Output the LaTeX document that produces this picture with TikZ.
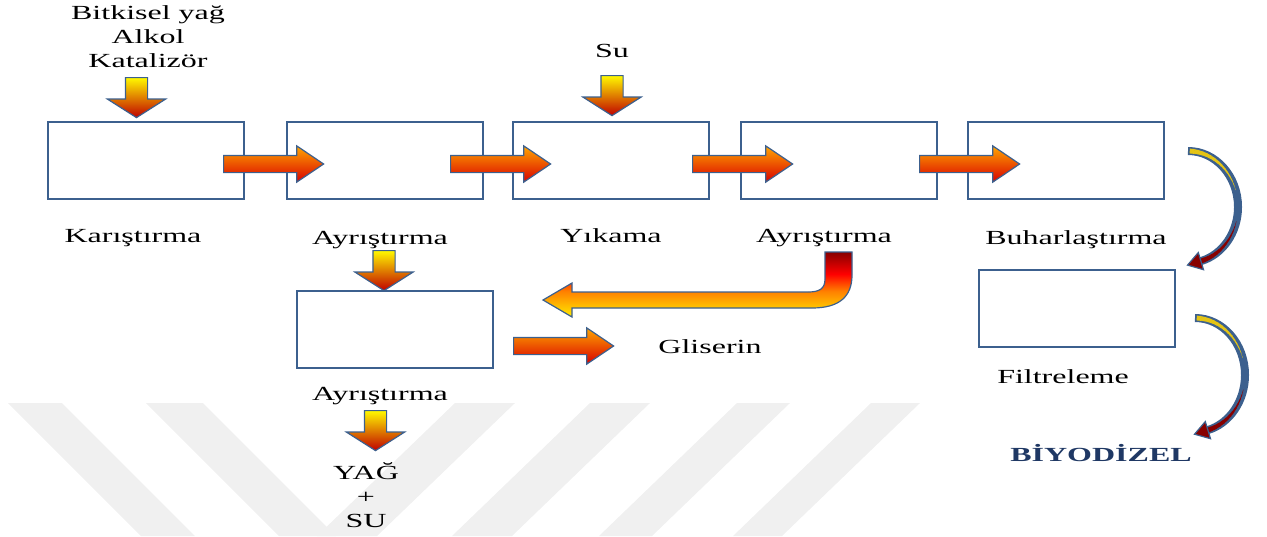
\documentclass[tikz,border=0pt]{standalone}
\usepackage{fontspec}
\setmainfont[FakeStretch=1.6]{Liberation Serif}
\usetikzlibrary{positioning,shapes.arrows,calc}

\definecolor{boxblue}{RGB}{60,96,142}
\definecolor{navy}{RGB}{31,56,100}
\definecolor{darkred}{RGB}{135,0,0}
\definecolor{gold}{RGB}{228,196,20}

% shading of the return arrow: dark red on top, yellow at the bottom
\pgfdeclareverticalshading{uturn}{100bp}{color(0bp)=(yellow!85!orange); color(25bp)=(yellow!85!orange); color(45bp)=(orange); color(58bp)=(red); color(75bp)=(darkred); color(100bp)=(darkred)}

\begin{document}
\begin{tikzpicture}[x=0.5pt,y=-0.5pt,
  box/.style={draw=boxblue,line width=1pt,fill=white,minimum width=98pt,minimum height=38.5pt,inner sep=0pt},
  rarrow/.style={single arrow,anchor=tail,draw=boxblue,line width=0.6pt,inner xsep=0pt,inner ysep=4pt,
    single arrow head extend=4.75pt,single arrow tip angle=68,minimum height=50pt,
    top color=orange!70!yellow,middle color=orange!40!red,bottom color=red!85!black},
  darrow/.style={single arrow,shape border rotate=270,anchor=tail,draw=boxblue,line width=0.6pt,inner xsep=5.25pt,inner ysep=0pt,
    single arrow head extend=9pt,single arrow tip angle=115,minimum height=20pt,
    top color=yellow!95!orange,middle color=orange!60!red,bottom color=red!75!black},
  lbl/.style={anchor=base}]

\useasboundingbox (0,0) rectangle (1267,536);

% watermark bands
\fill[black!6] (8,403) -- (62,403) -- (195,536) -- (141,536) -- cycle;
\fill[black!6] (146,403) -- (203,403) -- (336,536) -- (279,536) -- cycle;
\fill[black!6] (455,403) -- (515,403) -- (377,536) -- (317,536) -- cycle;
\fill[black!6] (590,403) -- (650,403) -- (512,536) -- (452,536) -- cycle;
\fill[black!6] (737,403) -- (790,403) -- (652,536) -- (599,536) -- cycle;
\fill[black!6] (871,403) -- (920,403) -- (782,536) -- (733,536) -- cycle;

% process boxes
\node[box] (b1) at (145.5,160.5) {};
\node[box] (b2) at (384.5,160.5) {};
\node[box] (b3) at (611,160.5) {};
\node[box] (b4) at (839,160.5) {};
\node[box] (b5) at (1066,160.5) {};
\node[box] (b6) at (395,329.5) {};
\node[box] (b7) at (1076.5,308.5) {};

% labels (multi-line ones sit on their last baseline)
\node[lbl,align=center] (in) at (148,67) {Bitkisel yağ\\Alkol\\Katalizör};
\node[lbl] (su) at (612,57) {Su};
\node[lbl] (l1) at (133,242) {Karıştırma};
\node[lbl] (l2) at (380,244) {Ayrıştırma};
\node[lbl] (l3) at (611,242) {Yıkama};
\node[lbl] (l4) at (824,242) {Ayrıştırma};
\node[lbl] (l5) at (1076,244) {Buharlaştırma};
\node[lbl] (l6) at (380,400) {Ayrıştırma};
\node[lbl] (l7) at (710,353) {Gliserin};
\node[lbl] (l8) at (1063,383) {Filtreleme};
\node[lbl,align=center] (out) at (366,527) {YAĞ\\+\\SU};
\node[lbl,font=\bfseries,text=navy] (bd) at (1101,461) {BİYODİZEL};

% block arrows, placed by their tails
\node[darrow] (d1) at (136.5,77) {};
\node[darrow] (d2) at (612,75) {};
\node[darrow] (d3) at (384,250) {};
\node[darrow] (d4) at (375.5,410) {};
\node[rarrow] (r1) at (223,164) {};
\node[rarrow] (r2) at (450,164) {};
\node[rarrow] (r3) at (692,164) {};
\node[rarrow] (r4) at (919,164) {};
\node[rarrow] (r5) at (513,346) {};

% glycerine return
\shadedraw[shading=uturn,draw=boxblue,line width=0.6pt]
  (825,252) -- (852,252) -- (852,275) .. controls (852,296) and (840,308) .. (812,308)
  -- (572,308) -- (572,317) -- (543,300) -- (572,283) -- (572,292) -- (808,292)
  .. controls (819,292) and (825,289) .. (825,279) -- cycle;

% curved arrows on the right
\coordinate (c1) at (1188,207);
\coordinate (c2) at (1195,375);
\draw[boxblue,line width=4pt] (c1) ++(-90:50 and 56) arc[start angle=-90,end angle=75,x radius=50,y radius=56];
\draw[boxblue,line width=4pt] (c2) ++(-90:50 and 57) arc[start angle=-90,end angle=75,x radius=50,y radius=57];
\foreach \c/\r in {c1/56,c2/57} {
  \foreach \a in {-88,-83,...,-23} {
    \pgfmathsetmacro\w{2.4*(-20-\a)/68}
    \draw[gold,line width=\w pt] (\c) ++(\a:50 and \r) arc[start angle=\a,end angle=\a+5.5,x radius=50,y radius=\r];
  }
  \foreach \a in {15,20,...,70} {
    \pgfmathsetmacro\w{2.4*(\a-10)/60}
    \draw[darkred,line width=\w pt] (\c) ++(\a:50 and \r) arc[start angle=\a,end angle=\a+5.5,x radius=50,y radius=\r];
  }
}
\filldraw[fill=darkred,draw=boxblue,line width=0.6pt] (1187.5,265.1) -- (1203.5,269.7) -- (1198.3,252.5) -- cycle;
\filldraw[fill=darkred,draw=boxblue,line width=0.6pt] (1194.5,434.2) -- (1210.5,438.7) -- (1205.3,421.5) -- cycle;

\end{tikzpicture}
\end{document}
